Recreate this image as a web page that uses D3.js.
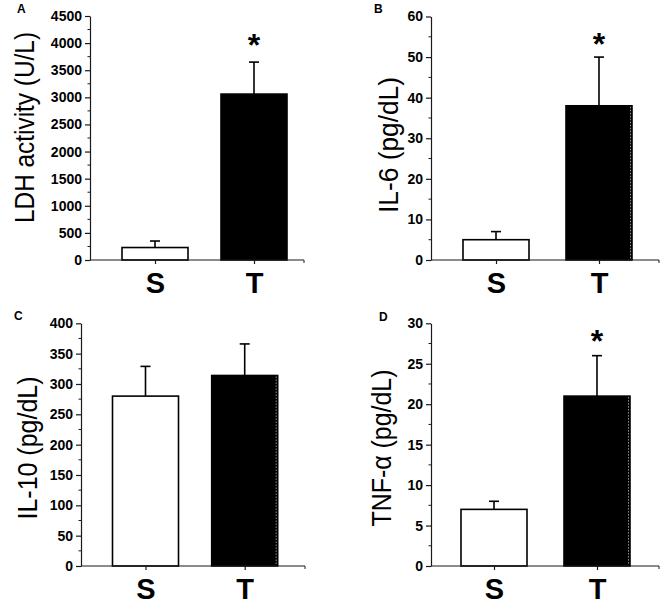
<!DOCTYPE html>
<html>
<head>
<meta charset="utf-8">
<script src="https://cdn.jsdelivr.net/npm/d3@7"></script>
<style>
  html, body { margin: 0; padding: 0; background: #fff; }
  svg { display: block; font-family: Arial, "Liberation Sans", sans-serif; }
</style>
</head>
<body>
<svg id="chart" width="668" height="606"></svg>
<script>
// ---- data ----
const categories = ["S", "T"];
const panelLetters = ["A", "B", "C", "D"];
const yTitles = ["LDH activity (U/L)", "IL-6 (pg/dL)", "IL-10 (pg/dL)", "TNF-\u03B1 (pg/dL)"];
const ticksA = [0, 500, 1000, 1500, 2000, 2500, 3000, 3500, 4000, 4500];
const ticksB = [0, 10, 20, 30, 40, 50, 60];
const ticksC = [0, 50, 100, 150, 200, 250, 300, 350, 400];
const ticksD = [0, 5, 10, 15, 20, 25, 30];
const meanS = [230, 5, 280, 7];
const meanT = [3060, 38, 314, 21];
const errS = [120, 2, 49, 1];      // upper error (SD/SE)
const errT = [590, 12, 52, 5];
const starValues = [4100, 55, null, 28.7];   // significance marker height (value units)

// ---- layout ----
const layout = [
  { x0: 90,  top: 16,    bottom: 260, c1: 155,   c2: 254,   end: 304, tx: 34,  tcy: 127.5, tlen: 191 },
  { x0: 431, top: 16.5,  bottom: 260, c1: 496,   c2: 599,   end: 659, tx: 398, tcy: 145,   tlen: 136 },
  { x0: 81,  top: 323.3, bottom: 566, c1: 145.5, c2: 244.7, end: 305, tx: 37,  tcy: 448,   tlen: 143 },
  { x0: 431, top: 323.3, bottom: 566, c1: 494,   c2: 597,   end: 659, tx: 391, tcy: 448,   tlen: 157 }
];
const allTicks = [ticksA, ticksB, ticksC, ticksD];
const letterPos = [[17, 13], [374, 13], [14, 320], [379, 321]];
const barW = 66;
const axisColor = "#1a1a1a";

const svg = d3.select("#chart");

layout.forEach((L, i) => {
  const ticks = allTicks[i];
  const yMax = ticks[ticks.length - 1];
  const y = d3.scaleLinear().domain([0, yMax]).range([L.bottom, L.top]);
  const x = d3.scalePoint().domain(categories).range([L.c1, L.c2]);
  const g = svg.append("g");

  const vals = [meanS[i], meanT[i]];
  const errs = [errS[i], errT[i]];
  const bars = categories.map((c, k) => ({ c, v: vals[k], e: errs[k], k }));

  // error bars (upward only)
  bars.forEach(b => {
    g.append("line")
      .attr("x1", x(b.c)).attr("x2", x(b.c))
      .attr("y1", y(b.v)).attr("y2", y(b.v + b.e))
      .attr("stroke", "#000").attr("stroke-width", 1.6);
    g.append("line")
      .attr("x1", x(b.c) - 5).attr("x2", x(b.c) + 5)
      .attr("y1", y(b.v + b.e)).attr("y2", y(b.v + b.e))
      .attr("stroke", "#000").attr("stroke-width", 1.6);
  });

  g.selectAll("rect.bar").data(bars).enter().append("rect")
    .attr("class", "bar")
    .attr("x", d => x(d.c) - barW / 2)
    .attr("y", d => y(d.v))
    .attr("width", barW)
    .attr("height", d => y(0) - y(d.v))
    .attr("fill", d => d.k === 0 ? "#fff" : "#000")
    .attr("stroke", "#000")
    .attr("stroke-width", 1.6);

  // faint dotted right edge on black bars (B, C, D)
  if (i > 0) {
    g.append("line")
      .attr("x1", x("T") + barW / 2 - 1.5).attr("x2", x("T") + barW / 2 - 1.5)
      .attr("y1", y(meanT[i]) + 1).attr("y2", y(0) - 1)
      .attr("stroke", "#bbb").attr("stroke-width", 0.8)
      .attr("stroke-dasharray", "1.5,1.5");
  }

  // y axis
  const yAxis = d3.axisLeft(y).tickValues(ticks).tickFormat(d3.format("d"))
    .tickSize(5).tickPadding(3).tickSizeOuter(0);
  const ya = g.append("g").attr("transform", `translate(${L.x0},0)`).call(yAxis);
  ya.select(".domain").attr("stroke", axisColor).attr("stroke-width", 1.2);
  ya.selectAll(".tick line").attr("stroke", axisColor).attr("stroke-width", 1.2);
  ya.selectAll(".tick text")
    .attr("font-size", 14).attr("font-weight", "bold")
    .attr("font-family", "Arial, 'Liberation Sans', sans-serif")
    .attr("fill", "#000");
  // minor ticks
  const minor = ticks.slice(0, -1).map((t, k) => (t + ticks[k + 1]) / 2);
  g.selectAll("line.minor").data(minor).enter().append("line")
    .attr("class", "minor")
    .attr("x1", L.x0 - 2.5).attr("x2", L.x0)
    .attr("y1", d => y(d)).attr("y2", d => y(d))
    .attr("stroke", axisColor).attr("stroke-width", 1);

  // x axis line
  g.append("line")
    .attr("x1", L.x0).attr("x2", L.end)
    .attr("y1", L.bottom).attr("y2", L.bottom)
    .attr("stroke", axisColor).attr("stroke-width", 1.2);
  g.append("line")
    .attr("x1", L.end).attr("x2", L.end)
    .attr("y1", L.bottom).attr("y2", L.bottom + 3)
    .attr("stroke", axisColor).attr("stroke-width", 1);
  const xAxis = d3.axisBottom(x).tickSize(4).tickPadding(2).tickSizeOuter(0);
  const xa = g.append("g").attr("transform", `translate(0,${L.bottom})`).call(xAxis);
  xa.select(".domain").remove();
  xa.selectAll(".tick line").attr("stroke", axisColor).attr("stroke-width", 1.2);
  xa.selectAll(".tick text")
    .attr("font-size", 29).attr("font-weight", "bold")
    .attr("font-family", "Arial, 'Liberation Sans', sans-serif")
    .attr("fill", "#000")
    .attr("dy", null)
    .attr("y", 33)
    .attr("dominant-baseline", "alphabetic");

  // y title
  g.append("text")
    .attr("transform", `translate(${L.tx},${L.tcy}) rotate(-90)`)
    .attr("text-anchor", "middle")
    .attr("font-size", 27)
    .attr("textLength", L.tlen)
    .attr("lengthAdjust", "spacingAndGlyphs")
    .attr("fill", "#000")
    .text(yTitles[i]);

  // panel letter
  svg.append("text")
    .attr("x", letterPos[i][0]).attr("y", letterPos[i][1])
    .attr("font-size", 12).attr("font-weight", "bold")
    .attr("fill", "#000")
    .text(panelLetters[i]);

  // significance star
  if (starValues[i] !== null) {
    g.append("text")
      .attr("x", x("T")).attr("y", y(starValues[i]) + 0.57 * 32)
      .attr("text-anchor", "middle")
      .attr("font-size", 32).attr("font-weight", "bold")
      .attr("fill", "#000")
      .text("*");
  }
});
</script>
</body>
</html>
